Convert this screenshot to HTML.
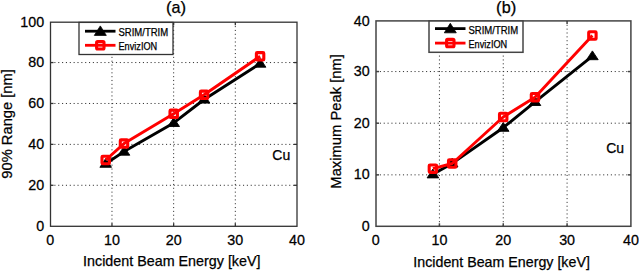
<!DOCTYPE html>
<html><head><meta charset="utf-8"><style>
html,body{margin:0;padding:0;background:#fff;width:639px;height:271px;overflow:hidden;}
svg{display:block;}
text{font-family:"Liberation Sans", sans-serif;fill:#000;stroke:#000;stroke-width:0.25px;}
.g{stroke:#333;stroke-width:1;stroke-dasharray:1.1 2.75;}
</style></head><body>
<svg width="639" height="271" viewBox="0 0 639 271">
<rect width="639" height="271" fill="#fff"/>
<line x1="111.97" y1="22.20" x2="111.97" y2="226.30" class="g"/>
<line x1="173.65" y1="22.20" x2="173.65" y2="226.30" class="g"/>
<line x1="235.32" y1="22.20" x2="235.32" y2="226.30" class="g"/>
<line x1="50.50" y1="185.29" x2="297.00" y2="185.29" class="g"/>
<line x1="50.50" y1="144.38" x2="297.00" y2="144.38" class="g"/>
<line x1="50.50" y1="103.47" x2="297.00" y2="103.47" class="g"/>
<line x1="50.50" y1="62.56" x2="297.00" y2="62.56" class="g"/>
<line x1="111.97" y1="226.30" x2="111.97" y2="223.30" stroke="#333" stroke-width="1.3"/>
<line x1="111.97" y1="22.20" x2="111.97" y2="25.20" stroke="#333" stroke-width="1.3"/>
<line x1="173.65" y1="226.30" x2="173.65" y2="223.30" stroke="#333" stroke-width="1.3"/>
<line x1="173.65" y1="22.20" x2="173.65" y2="25.20" stroke="#333" stroke-width="1.3"/>
<line x1="235.32" y1="226.30" x2="235.32" y2="223.30" stroke="#333" stroke-width="1.3"/>
<line x1="235.32" y1="22.20" x2="235.32" y2="25.20" stroke="#333" stroke-width="1.3"/>
<line x1="50.50" y1="185.29" x2="53.50" y2="185.29" stroke="#333" stroke-width="1.3"/>
<line x1="297.00" y1="185.29" x2="294.00" y2="185.29" stroke="#333" stroke-width="1.3"/>
<line x1="50.50" y1="144.38" x2="53.50" y2="144.38" stroke="#333" stroke-width="1.3"/>
<line x1="297.00" y1="144.38" x2="294.00" y2="144.38" stroke="#333" stroke-width="1.3"/>
<line x1="50.50" y1="103.47" x2="53.50" y2="103.47" stroke="#333" stroke-width="1.3"/>
<line x1="297.00" y1="103.47" x2="294.00" y2="103.47" stroke="#333" stroke-width="1.3"/>
<line x1="50.50" y1="62.56" x2="53.50" y2="62.56" stroke="#333" stroke-width="1.3"/>
<line x1="297.00" y1="62.56" x2="294.00" y2="62.56" stroke="#333" stroke-width="1.3"/>
<polyline points="105.70,163.70 124.00,151.60 173.70,122.90 204.10,99.50 260.10,63.60" fill="none" stroke="#000" stroke-width="2.9" stroke-linejoin="round"/><path d="M99.90,167.30 L105.70,158.50 L111.50,167.30 Z" fill="#000" stroke="#000" stroke-width="0.9" stroke-linejoin="round"/><path d="M118.20,155.20 L124.00,146.40 L129.80,155.20 Z" fill="#000" stroke="#000" stroke-width="0.9" stroke-linejoin="round"/><path d="M167.90,126.50 L173.70,117.70 L179.50,126.50 Z" fill="#000" stroke="#000" stroke-width="0.9" stroke-linejoin="round"/><path d="M198.30,103.10 L204.10,94.30 L209.90,103.10 Z" fill="#000" stroke="#000" stroke-width="0.9" stroke-linejoin="round"/><path d="M254.30,67.20 L260.10,58.40 L265.90,67.20 Z" fill="#000" stroke="#000" stroke-width="0.9" stroke-linejoin="round"/>
<polyline points="105.70,160.00 124.00,143.60 173.70,113.80 204.10,94.80 260.10,56.30" fill="none" stroke="#f00" stroke-width="2.9" stroke-linejoin="round"/>
<rect x="102.00" y="156.30" width="7.40" height="7.40" rx="0.8" fill="none" stroke="#f00" stroke-width="3.1"/>
<rect x="120.30" y="139.90" width="7.40" height="7.40" rx="0.8" fill="none" stroke="#f00" stroke-width="3.1"/>
<rect x="170.00" y="110.10" width="7.40" height="7.40" rx="0.8" fill="none" stroke="#f00" stroke-width="3.1"/>
<rect x="200.40" y="91.10" width="7.40" height="7.40" rx="0.8" fill="none" stroke="#f00" stroke-width="3.1"/>
<rect x="256.40" y="52.60" width="7.40" height="7.40" rx="0.8" fill="none" stroke="#f00" stroke-width="3.1"/>
<rect x="50.50" y="22.20" width="246.50" height="204.10" fill="none" stroke="#333" stroke-width="1.3"/>
<rect x="79.00" y="22.40" width="94" height="32.1" fill="#fff" stroke="#333" stroke-width="1.3"/>
<line x1="85.0" y1="31.20" x2="115.5" y2="31.20" stroke="#000" stroke-width="2.8"/>
<path d="M94.30,35.40 L100.30,25.90 L106.30,35.40 Z" fill="#000" stroke="#000" stroke-width="0.8" stroke-linejoin="round"/>
<line x1="85.0" y1="45.30" x2="115.5" y2="45.30" stroke="#f00" stroke-width="2.8"/>
<rect x="96.60" y="41.60" width="7.40" height="7.40" rx="1" fill="none" stroke="#f00" stroke-width="3.1"/>
<text x="118.5" y="35.80" font-size="10" textLength="49.6" lengthAdjust="spacingAndGlyphs" fill="#333" stroke="none">SRIM/TRIM</text>
<text x="118.5" y="49.70" font-size="10" textLength="38.7" lengthAdjust="spacingAndGlyphs" fill="#333" stroke="none">EnvizION</text>
<text transform="translate(50.30,244.8) scale(1,1.04)" font-size="14.3" text-anchor="middle">0</text>
<text transform="translate(111.97,244.8) scale(1,1.04)" font-size="14.3" text-anchor="middle">10</text>
<text transform="translate(173.65,244.8) scale(1,1.04)" font-size="14.3" text-anchor="middle">20</text>
<text transform="translate(235.32,244.8) scale(1,1.04)" font-size="14.3" text-anchor="middle">30</text>
<text transform="translate(297.00,244.8) scale(1,1.04)" font-size="14.3" text-anchor="middle">40</text>
<text transform="translate(44.20,231.20) scale(1,1.06)" font-size="14.3" text-anchor="end">0</text>
<text transform="translate(44.20,189.84) scale(1,1.06)" font-size="14.3" text-anchor="end">20</text>
<text transform="translate(44.20,148.93) scale(1,1.06)" font-size="14.3" text-anchor="end">40</text>
<text transform="translate(44.20,108.02) scale(1,1.06)" font-size="14.3" text-anchor="end">60</text>
<text transform="translate(44.20,67.11) scale(1,1.06)" font-size="14.3" text-anchor="end">80</text>
<text transform="translate(44.20,27.30) scale(1,1.06)" font-size="14.3" text-anchor="end">100</text>
<text x="171.80" y="266.3" font-size="14.3" text-anchor="middle" textLength="177.4" lengthAdjust="spacingAndGlyphs">Incident Beam Energy [keV]</text>
<text transform="translate(11.7,123.9) rotate(-90)" x="0" y="0" font-size="14.3" text-anchor="middle" textLength="109.5" lengthAdjust="spacingAndGlyphs">90% Range [nm]</text>
<text x="176.0" y="13.1" font-size="16.8" text-anchor="middle" stroke="none">(<tspan font-size="16.2" dy="0.3">a</tspan><tspan dy="-0.3">)</tspan></text>
<text x="272.3" y="159.9" font-size="14">Cu</text>
<line x1="439.43" y1="20.90" x2="439.43" y2="226.30" class="g"/>
<line x1="503.25" y1="20.90" x2="503.25" y2="226.30" class="g"/>
<line x1="567.08" y1="20.90" x2="567.08" y2="226.30" class="g"/>
<line x1="376.00" y1="174.85" x2="630.90" y2="174.85" class="g"/>
<line x1="376.00" y1="123.20" x2="630.90" y2="123.20" class="g"/>
<line x1="376.00" y1="71.55" x2="630.90" y2="71.55" class="g"/>
<line x1="439.43" y1="226.30" x2="439.43" y2="223.30" stroke="#444" stroke-width="1.5"/>
<line x1="439.43" y1="20.90" x2="439.43" y2="23.90" stroke="#444" stroke-width="1.5"/>
<line x1="503.25" y1="226.30" x2="503.25" y2="223.30" stroke="#444" stroke-width="1.5"/>
<line x1="503.25" y1="20.90" x2="503.25" y2="23.90" stroke="#444" stroke-width="1.5"/>
<line x1="567.08" y1="226.30" x2="567.08" y2="223.30" stroke="#444" stroke-width="1.5"/>
<line x1="567.08" y1="20.90" x2="567.08" y2="23.90" stroke="#444" stroke-width="1.5"/>
<line x1="376.00" y1="174.85" x2="379.00" y2="174.85" stroke="#444" stroke-width="1.5"/>
<line x1="630.90" y1="174.85" x2="627.90" y2="174.85" stroke="#444" stroke-width="1.5"/>
<line x1="376.00" y1="123.20" x2="379.00" y2="123.20" stroke="#444" stroke-width="1.5"/>
<line x1="630.90" y1="123.20" x2="627.90" y2="123.20" stroke="#444" stroke-width="1.5"/>
<line x1="376.00" y1="71.55" x2="379.00" y2="71.55" stroke="#444" stroke-width="1.5"/>
<line x1="630.90" y1="71.55" x2="627.90" y2="71.55" stroke="#444" stroke-width="1.5"/>
<polyline points="432.90,174.30 452.20,163.40 503.20,127.70 535.00,101.90 592.40,56.10" fill="none" stroke="#000" stroke-width="2.9" stroke-linejoin="round"/><path d="M427.10,177.90 L432.90,169.10 L438.70,177.90 Z" fill="#000" stroke="#000" stroke-width="0.9" stroke-linejoin="round"/><path d="M446.40,167.00 L452.20,158.20 L458.00,167.00 Z" fill="#000" stroke="#000" stroke-width="0.9" stroke-linejoin="round"/><path d="M497.40,131.30 L503.20,122.50 L509.00,131.30 Z" fill="#000" stroke="#000" stroke-width="0.9" stroke-linejoin="round"/><path d="M529.20,105.50 L535.00,96.70 L540.80,105.50 Z" fill="#000" stroke="#000" stroke-width="0.9" stroke-linejoin="round"/><path d="M586.60,59.70 L592.40,50.90 L598.20,59.70 Z" fill="#000" stroke="#000" stroke-width="0.9" stroke-linejoin="round"/>
<polyline points="432.90,168.70 452.20,163.50 503.20,117.00 535.00,97.20 592.40,35.50" fill="none" stroke="#f00" stroke-width="2.9" stroke-linejoin="round"/>
<rect x="429.20" y="165.00" width="7.40" height="7.40" rx="0.8" fill="none" stroke="#f00" stroke-width="3.1"/>
<rect x="448.50" y="159.80" width="7.40" height="7.40" rx="0.8" fill="none" stroke="#f00" stroke-width="3.1"/>
<rect x="499.50" y="113.30" width="7.40" height="7.40" rx="0.8" fill="none" stroke="#f00" stroke-width="3.1"/>
<rect x="531.30" y="93.50" width="7.40" height="7.40" rx="0.8" fill="none" stroke="#f00" stroke-width="3.1"/>
<rect x="588.70" y="31.80" width="7.40" height="7.40" rx="0.8" fill="none" stroke="#f00" stroke-width="3.1"/>
<rect x="376.00" y="20.90" width="254.90" height="205.40" fill="none" stroke="#444" stroke-width="1.5"/>
<rect x="429.00" y="21.00" width="94" height="31.299999999999997" fill="#fff" stroke="#444" stroke-width="1.5"/>
<line x1="435.0" y1="28.60" x2="465.5" y2="28.60" stroke="#000" stroke-width="2.8"/>
<path d="M444.30,32.80 L450.30,23.30 L456.30,32.80 Z" fill="#000" stroke="#000" stroke-width="0.8" stroke-linejoin="round"/>
<line x1="435.0" y1="43.10" x2="465.5" y2="43.10" stroke="#f00" stroke-width="2.8"/>
<rect x="446.60" y="39.40" width="7.40" height="7.40" rx="1" fill="none" stroke="#f00" stroke-width="3.1"/>
<text x="468.5" y="33.60" font-size="10" textLength="49.6" lengthAdjust="spacingAndGlyphs" fill="#333" stroke="none">SRIM/TRIM</text>
<text x="468.5" y="47.80" font-size="10" textLength="38.7" lengthAdjust="spacingAndGlyphs" fill="#333" stroke="none">EnvizION</text>
<text transform="translate(375.60,244.8) scale(1,1.04)" font-size="14.3" text-anchor="middle">0</text>
<text transform="translate(439.43,244.8) scale(1,1.04)" font-size="14.3" text-anchor="middle">10</text>
<text transform="translate(503.25,244.8) scale(1,1.04)" font-size="14.3" text-anchor="middle">20</text>
<text transform="translate(567.08,244.8) scale(1,1.04)" font-size="14.3" text-anchor="middle">30</text>
<text transform="translate(630.90,244.8) scale(1,1.04)" font-size="14.3" text-anchor="middle">40</text>
<text transform="translate(369.70,231.20) scale(1,1.06)" font-size="14.3" text-anchor="end">0</text>
<text transform="translate(369.70,179.40) scale(1,1.06)" font-size="14.3" text-anchor="end">10</text>
<text transform="translate(369.70,127.75) scale(1,1.06)" font-size="14.3" text-anchor="end">20</text>
<text transform="translate(369.70,76.10) scale(1,1.06)" font-size="14.3" text-anchor="end">30</text>
<text transform="translate(369.70,26.00) scale(1,1.06)" font-size="14.3" text-anchor="end">40</text>
<text x="501.60" y="266.6" font-size="14.3" text-anchor="middle" textLength="176.5" lengthAdjust="spacingAndGlyphs">Incident Beam Energy [keV]</text>
<text transform="translate(341.1,121.4) rotate(-90)" x="0" y="0" font-size="14.3" text-anchor="middle" textLength="134.5" lengthAdjust="spacingAndGlyphs">Maximum Peak [nm]</text>
<text x="506.2" y="13.1" font-size="16.8" text-anchor="middle" stroke="none">(<tspan font-size="16.2" dy="0.3">b</tspan><tspan dy="-0.3">)</tspan></text>
<text x="606.2" y="153.2" font-size="14">Cu</text>
</svg>
</body></html>
